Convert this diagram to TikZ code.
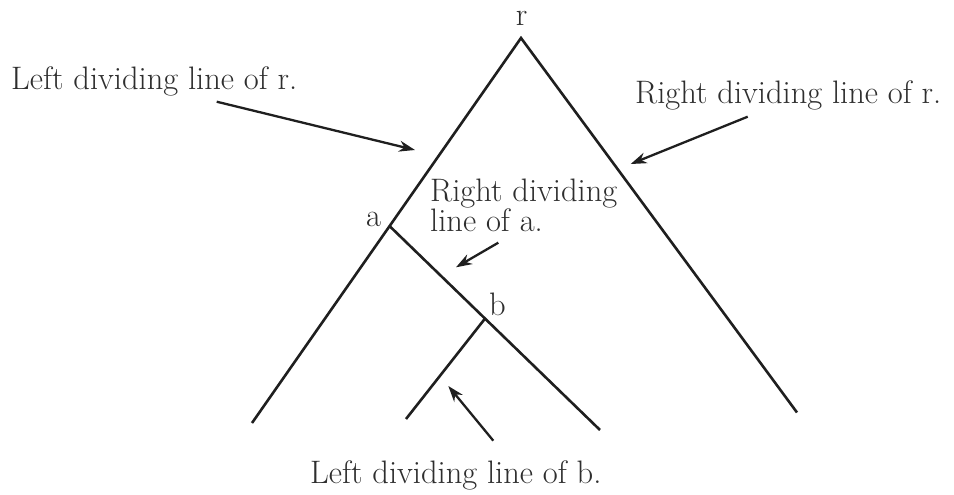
\documentclass[tikz,border=0pt]{standalone}
\usetikzlibrary{arrows.meta}
\begin{document}
\begin{tikzpicture}[x=1pt,y=-1pt,
  edge/.style={line width=2.6pt, draw=black!88, line join=miter},
  pointer/.style={line width=2.3pt, draw=black!88, -{Stealth[length=16pt,width=11pt]}},
  lbl/.style={inner sep=0pt, font=\fontsize{32.5}{30}\selectfont, text=black!82}]
\useasboundingbox (0,0) rectangle (954,495);
% tree points
\coordinate (r) at (521,38);
\coordinate (a) at (389.5,226);
\coordinate (b) at (485,318.6);
\coordinate (rl) at (252,423);
\coordinate (rr) at (797,412.5);
\coordinate (ae) at (600,430);
\coordinate (be) at (406,419);
% lines
\draw[edge] (rl) -- (r) -- (rr);
\draw[edge] (a) -- (ae);
\draw[edge] (b) -- (be);
% vertex labels
\node[lbl, anchor=base] (rlab) at (521.7,26) {r};
\node[lbl, anchor=base] (alab) at (373.7,226) {a};
\node[lbl, anchor=base] (blab) at (497.5,315) {b};
% texts
\node[lbl, anchor=base west] (t1) at (11,90) {Left dividing line of r.};
\node[lbl, anchor=base west] (t2) at (635,103.3) {Right dividing line of r.};
\node[lbl, anchor=base west, align=left] (t3) at (430,231.7) {Right dividing\\line of a.};
\node[lbl, anchor=base west] (t4) at (310,483.3) {Left dividing line of b.};
% pointer ends
\coordinate (p1s) at (216.7,101.7); \coordinate (p1e) at (415,150);
\coordinate (p2s) at (747.7,116.7); \coordinate (p2e) at (630.7,164);
\coordinate (p3s) at (498.3,242.7); \coordinate (p3e) at (456,267.3);
\coordinate (p4s) at (493.3,440.7); \coordinate (p4e) at (448.3,386);
\draw[pointer] (p1s) -- (p1e);
\draw[pointer] (p2s) -- (p2e);
\draw[pointer] (p3s) -- (p3e);
\draw[pointer] (p4s) -- (p4e);
\end{tikzpicture}
\end{document}
